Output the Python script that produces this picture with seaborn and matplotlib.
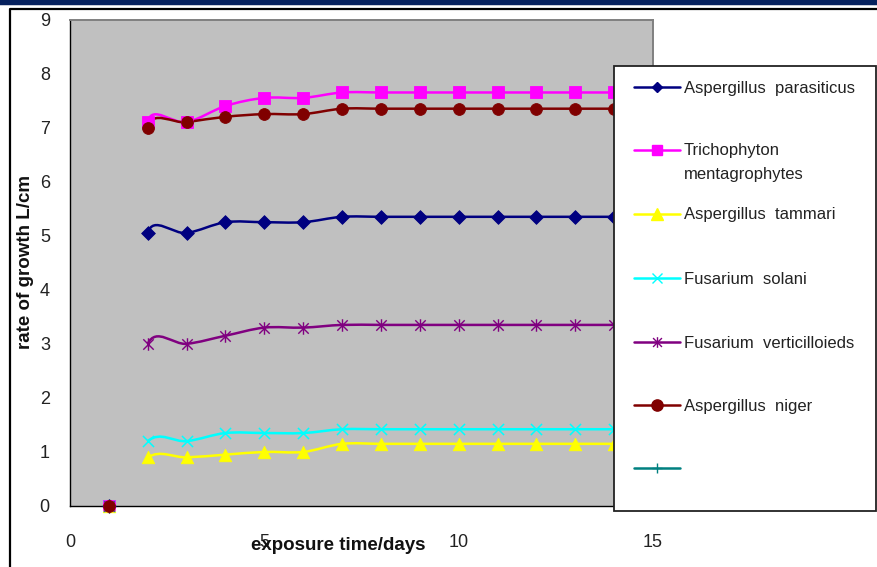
import numpy as np
import matplotlib
matplotlib.use("Agg")
import matplotlib.pyplot as plt
from matplotlib.path import Path
from matplotlib.patches import PathPatch, Rectangle
from matplotlib.lines import Line2D
import seaborn as sns

# ---- data: colony growth (cm) against exposure time (days) ----
days = [1, 2, 3, 4, 5, 6, 7, 8, 9, 10, 11, 12, 13, 14]
a_parasiticus = [0, 5.05, 5.05, 5.25, 5.25, 5.25, 5.35, 5.35, 5.35, 5.35, 5.35, 5.35, 5.35, 5.35]
t_mentagrophytes = [0, 7.1, 7.1, 7.4, 7.55, 7.55, 7.65, 7.65, 7.65, 7.65, 7.65, 7.65, 7.65, 7.65]
a_tammari = [0, 0.9, 0.9, 0.95, 1.0, 1.0, 1.15, 1.15, 1.15, 1.15, 1.15, 1.15, 1.15, 1.15]
f_solani = [0, 1.2, 1.2, 1.35, 1.35, 1.35, 1.42, 1.42, 1.42, 1.42, 1.42, 1.42, 1.42, 1.42]
f_verticilloieds = [0, 3.0, 3.0, 3.15, 3.3, 3.3, 3.35, 3.35, 3.35, 3.35, 3.35, 3.35, 3.35, 3.35]
a_niger = [0, 7.0, 7.1, 7.2, 7.25, 7.25, 7.35, 7.35, 7.35, 7.35, 7.35, 7.35, 7.35, 7.35]

series_labels = ["Aspergillus  parasiticus", "Trichophyton\nmentagrophytes",
                 "Aspergillus  tammari", "Fusarium  solani",
                 "Fusarium  verticilloieds", "Aspergillus  niger", ""]
x_ticks = [0, 5, 10, 15]
y_ticks = [0, 1, 2, 3, 4, 5, 6, 7, 8, 9]

# asterisk marker: an x crossed by a vertical stroke
asterisk = Path([(-1, -1), (1, 1), (-1, 1), (1, -1), (0, -1.2), (0, 1.2)],
                [Path.MOVETO, Path.LINETO, Path.MOVETO, Path.LINETO, Path.MOVETO, Path.LINETO])

styles = [
    dict(color="#000080", marker="D", ms=7.0, filled=True),
    dict(color="#FF00FF", marker="s", ms=8.0, filled=True),
    dict(color="#FFFF00", marker="^", ms=9.0, filled=True),
    dict(color="#00FFFF", marker="x", ms=8.0, filled=False),
    dict(color="#800080", marker=asterisk, ms=9.0, filled=False),
    dict(color="#800000", marker="o", ms=8.5, filled=True),
    dict(color="#008080", marker="+", ms=8.0, filled=False),
]
all_series = [a_parasiticus, t_mentagrophytes, a_tammari, f_solani, f_verticilloieds, a_niger]

sns.set_style("white")
plt.rcParams["font.family"] = ["Liberation Sans", "DejaVu Sans"]

W, H = 877, 567
fig = plt.figure(figsize=(W / 100, H / 100), dpi=100)
fig.patch.set_facecolor("white")

left, right, top, bottom = 70, 653, 19.5, 506
ax = fig.add_axes([left / W, 1 - bottom / H, (right - left) / W, (bottom - top) / H])
ax.set_facecolor("#C0C0C0")
ax.set_xlim(0, 15)
ax.set_ylim(0, 9)
ax.set_xticks(x_ticks)
ax.set_yticks(y_ticks)
ax.tick_params(axis="both", direction="out", length=4.5, width=1, color="black",
               labelsize=13, labelcolor="#222222")
ax.tick_params(axis="y", pad=10)
ax.tick_params(axis="x", pad=16)
for side in ("left", "bottom"):
    ax.spines[side].set_color("black")
    ax.spines[side].set_linewidth(1.0)
for side in ("top", "right"):
    ax.spines[side].set_color("#808080")
    ax.spines[side].set_linewidth(1.4)
    ax.spines[side].set_visible(True)
ax.set_xlabel("")
ax.set_ylabel("")


def smooth_path(xs, ys):
    """Bezier smoothing in screen space; the first reading only steers the start."""
    pts = ax.transData.transform(np.column_stack([xs, ys]))
    n = len(pts)
    tangents = np.zeros_like(pts)
    for i in range(1, n):
        prev_p = pts[i - 1]
        next_p = pts[i + 1] if i + 1 < n else pts[i]
        t = (next_p - prev_p) / 6.0
        d_prev = np.linalg.norm(pts[i] - prev_p)
        d_next = np.linalg.norm(next_p - pts[i]) if i + 1 < n else d_prev
        lim = 0.5 * min(d_prev, d_next)
        length = np.linalg.norm(t)
        if length > lim > 0:
            t = t * lim / length
        tangents[i] = t
    verts = [pts[1]]
    codes = [Path.MOVETO]
    for i in range(1, n - 1):
        verts += [pts[i] + tangents[i], pts[i + 1] - tangents[i + 1], pts[i + 1]]
        codes += [Path.CURVE4] * 3
    verts = ax.transData.inverted().transform(np.array(verts))
    return Path(verts, codes)


for vals, st in zip(all_series, styles):
    ax.add_patch(PathPatch(smooth_path(days, vals), facecolor="none",
                           edgecolor=st["color"], lw=1.8, zorder=3))

for vals, st in zip(all_series, styles):
    if st["filled"]:
        sns.scatterplot(x=days, y=vals, marker=st["marker"], s=st["ms"] ** 2,
                        color=st["color"], edgecolor=st["color"], linewidth=0.6,
                        ax=ax, zorder=4, clip_on=False)
    elif isinstance(st["marker"], str):
        sns.scatterplot(x=days, y=vals, marker=st["marker"], s=st["ms"] ** 2,
                        color=st["color"], linewidth=1.1, ax=ax, zorder=4, clip_on=False)
    else:
        sns.scatterplot(x=days, y=vals, marker=st["marker"], s=st["ms"] ** 2,
                        color=st["color"], edgecolor=st["color"], linewidth=1.0,
                        ax=ax, zorder=4, clip_on=False)

# ---- overlay in pixel units: frame, banner, axis titles, legend ----
ov = fig.add_axes([0, 0, 1, 1], zorder=10)
ov.set_xlim(0, W)
ov.set_ylim(H, 0)
ov.axis("off")
ov.patch.set_alpha(0)

ov.add_patch(Rectangle((0, 0), W, 4.5, facecolor="#06215E", edgecolor="none"))
ov.add_patch(Rectangle((0, 4.5), W, 1.2, facecolor="#C8CCD8", edgecolor="none"))
ov.plot([9.5, 9.5, W], [H, 8.8, 8.8], color="black", lw=1.6, solid_capstyle="butt")

ov.text(26, 262, "rate of growth L/cm", rotation=90, ha="center", va="center",
        fontsize=13.5, fontweight="bold", color="#111111")
ov.text(338, 545, "exposure time/days", ha="center", va="center",
        fontsize=13.5, fontweight="bold", color="#111111")

ov.add_patch(Rectangle((613.5, 66), 262.5, 445, facecolor="white", edgecolor="#222222", lw=1.3))
rows = [87, 150, 214, 278, 342, 405, 468]
for y, lab, st in zip(rows, series_labels, styles):
    ov.add_line(Line2D([634, 680], [y, y], color=st["color"], lw=1.8))
    kw = dict(marker=st["marker"], color=st["color"], linestyle="none")
    if st["filled"]:
        ov.add_line(Line2D([657], [y], markersize=st["ms"] * (0.7 if st["marker"] == "D" else 0.95),
                           markerfacecolor=st["color"], markeredgecolor=st["color"], **kw))
    else:
        ov.add_line(Line2D([657], [y], markersize=st["ms"] * 0.85, markeredgewidth=1.0,
                           markeredgecolor=st["color"], **kw))
    if lab:
        lines = lab.split("\n")
        for k, part in enumerate(lines):
            ov.text(684, y + 1 + k * 23, part, ha="left", va="center", fontsize=12,
                    color="#222222")

fig.savefig("out.png", dpi=100)
